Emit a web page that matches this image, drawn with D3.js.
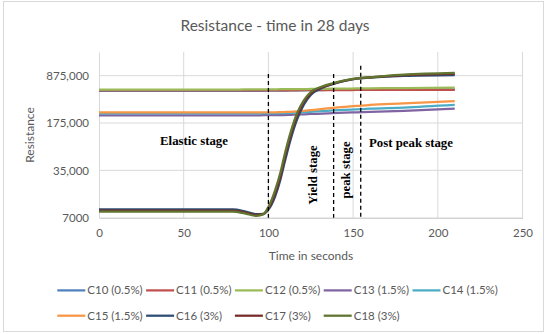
<!DOCTYPE html>
<html>
<head>
<meta charset="utf-8">
<script src="https://cdn.jsdelivr.net/npm/d3@7"></script>
<style>
  body { margin: 0; background: #fff; }
  text { font-family: Lato, "Open Sans", sans-serif; fill: #595959; }
  .note { font-family: "Liberation Serif", serif; font-weight: bold; fill: #000; }
</style>
</head>
<body>
<svg width="550" height="334"></svg>
<script>
// time axis (seconds) shared by all series
const times = [0, 40, 79, 86, 93, 97, 100, 104, 107, 109, 113, 117, 121, 125, 132, 138, 145, 152, 160, 180, 210];

const seriesNames = ['C10 (0.5%)', 'C11 (0.5%)', 'C12 (0.5%)', 'C13 (1.5%)', 'C14 (1.5%)',
    'C15 (1.5%)', 'C16 (3%)', 'C17 (3%)', 'C18 (3%)'];
const seriesColors = ['#4f81bd', '#c0504d', '#9bbb59', '#8064a2', '#4bacc6',
    '#f79646', '#2c4d75', '#772c2a', '#5f7530'];

const c10 = [522000, 522000, 523000, 523000, 524000, 524000, 525000, 526000, 527000, 528000, 529000, 531000, 533000, 535000, 537000, 539000, 541000, 543000, 545000, 547000, 548000];
const c11 = [530000, 530000, 530000, 530000, 531000, 531000, 531000, 532000, 532000, 532000, 533000, 533000, 534000, 534000, 535000, 536000, 537000, 538000, 539000, 540000, 542000];
const c12 = [543000, 544000, 546000, 547000, 548000, 549000, 550000, 551000, 552000, 552000, 553000, 554000, 555000, 557000, 559000, 561000, 564000, 567000, 570000, 575000, 581000];
const c13 = [226000, 226000, 227000, 227000, 227000, 228000, 228000, 228000, 229000, 229000, 231000, 233000, 235000, 238000, 241000, 245000, 249000, 252000, 255000, 264000, 285000];
const c14 = [242000, 242000, 242000, 242000, 242000, 243000, 243000, 243000, 244000, 245000, 247000, 250000, 253000, 256000, 262000, 268000, 274000, 279000, 285000, 296000, 323000];
const c15 = [252000, 252000, 252000, 252000, 252000, 252000, 252000, 252000, 253000, 254000, 256000, 260000, 265000, 271000, 282000, 293000, 304000, 314000, 323000, 340000, 369000];
const c16 = [9260, 9260, 9260, 8700, 7900, 8000, 9200, 14500, 25000, 40000, 98000, 200000, 330000, 455000, 580000, 655000, 730000, 790000, 820000, 870000, 895000];
const c17 = [8910, 8910, 8910, 8400, 7700, 7900, 9600, 16000, 28000, 46000, 112000, 225000, 360000, 480000, 595000, 665000, 738000, 795000, 825000, 890000, 930000];
const c18 = [8590, 8590, 8590, 8100, 7450, 7850, 10100, 17900, 31900, 52000, 125000, 246000, 382000, 502000, 610000, 675000, 745000, 801000, 829000, 905000, 960000];

const xTicks = [0, 50, 100, 150, 200, 250];
const yTicks = [7000, 35000, 175000, 875000];

// stage markers: x position (s) and top of dashed line (resistance)
const stageX = [100, 138.5, 154.5];
const stageTop = [930000, 930000, 1230000];

const allValues = [c10, c11, c12, c13, c14, c15, c16, c17, c18];
const series = seriesNames.map((name, i) => ({
    name,
    color: seriesColors[i],
    points: times.map((t, j) => ({ t, v: allValues[i][j] }))
}));

const svg = d3.select('svg');

svg.append('rect')
    .attr('x', 3.5).attr('y', 1.5)
    .attr('width', 540).attr('height', 330)
    .attr('fill', '#fff')
    .attr('stroke', '#d9d9d9');

const x = d3.scaleLinear().domain([0, 250]).range([99, 522.5]);
const y = d3.scaleLog().base(5)
    .domain([7000, 875000 * Math.sqrt(5)])
    .range([217.7, 52]);

// gridlines
svg.append('g')
    .selectAll('line')
    .data(xTicks.slice(1))
    .enter().append('line')
    .attr('x1', d => x(d)).attr('x2', d => x(d))
    .attr('y1', y.range()[1]).attr('y2', y.range()[0])
    .attr('stroke', '#d9d9d9');

svg.append('g')
    .selectAll('line')
    .data(yTicks.slice(1))
    .enter().append('line')
    .attr('x1', x(0)).attr('x2', x(250))
    .attr('y1', d => y(d)).attr('y2', d => y(d))
    .attr('stroke', '#d9d9d9');

// axes
const xAxis = svg.append('g')
    .attr('transform', `translate(0,${y(7000)})`)
    .call(d3.axisBottom(x).tickValues(xTicks).tickSize(0).tickPadding(11));
xAxis.select('.domain').attr('stroke', '#bfbfbf');

const yAxis = svg.append('g')
    .attr('transform', `translate(${x(0)},0)`)
    .call(d3.axisLeft(y).tickValues(yTicks).tickSize(0).tickPadding(10)
        .tickFormat(d => d === 7000 ? '7000' : d3.format(',')(d)));
yAxis.select('.domain').attr('stroke', '#d9d9d9');

svg.selectAll('.tick text')
    .attr('fill', '#595959')
    .style('font-family', 'Lato, sans-serif')
    .style('font-size', '11.5px');

// series
const line = d3.line()
    .x(d => x(d.t))
    .y(d => y(d.v))
    .curve(d3.curveMonotoneX);

svg.append('g')
    .selectAll('path')
    .data(series)
    .enter().append('path')
    .attr('d', d => line(d.points))
    .attr('fill', 'none')
    .attr('stroke', d => d.color)
    .attr('stroke-width', 2.25)
    .attr('stroke-linejoin', 'round');

// stage dividers
svg.append('g')
    .selectAll('line')
    .data(stageX)
    .enter().append('line')
    .attr('x1', d => x(d)).attr('x2', d => x(d))
    .attr('y1', (d, i) => y(stageTop[i])).attr('y2', y(7000))
    .attr('stroke', '#000')
    .attr('stroke-width', 1.3)
    .attr('stroke-dasharray', '4,3');

// stage labels
svg.append('text').attr('class', 'note')
    .attr('x', 194).attr('y', 145)
    .attr('text-anchor', 'middle').style('font-size', '12.8px')
    .text('Elastic stage');
svg.append('text').attr('class', 'note')
    .attr('x', 411).attr('y', 147)
    .attr('text-anchor', 'middle').style('font-size', '12.8px')
    .text('Post peak stage');
svg.append('text').attr('class', 'note')
    .attr('transform', 'translate(316.5,175) rotate(-90)')
    .attr('text-anchor', 'middle').style('font-size', '12.8px')
    .text('Yield stage');
svg.append('text').attr('class', 'note')
    .attr('transform', 'translate(349.5,170) rotate(-90)')
    .attr('text-anchor', 'middle').style('font-size', '12.8px')
    .text('peak stage');

// titles
svg.append('text')
    .attr('x', 275).attr('y', 31)
    .attr('text-anchor', 'middle')
    .style('font-size', '15.5px')
    .text('Resistance - time in 28 days');

svg.append('text')
    .attr('x', 311).attr('y', 259.5)
    .attr('text-anchor', 'middle')
    .style('font-size', '12px')
    .text('Time in seconds');

svg.append('text')
    .attr('transform', 'translate(34,135) rotate(-90)')
    .attr('text-anchor', 'middle')
    .style('font-size', '12px')
    .text('Resistance');

// legend
const legend = svg.append('g')
    .selectAll('g')
    .data(series)
    .enter().append('g')
    .attr('transform', (d, i) => `translate(${57.3 + (i % 5) * 88.8},${i < 5 ? 290.4 : 315.7})`);

legend.append('line')
    .attr('x1', 0).attr('x2', 28)
    .attr('stroke', d => d.color)
    .attr('stroke-width', 2.25);

legend.append('text')
    .attr('x', 30).attr('y', 4)
    .style('font-size', '11.5px')
    .text(d => d.name);
</script>
</body>
</html>
